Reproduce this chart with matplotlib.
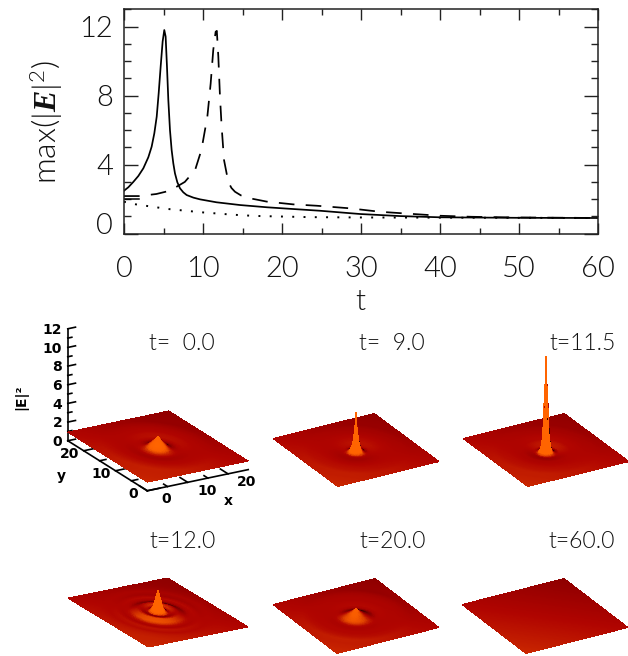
import matplotlib
matplotlib.use("Agg")
import matplotlib.pyplot as plt
import numpy as np
from matplotlib.colors import LinearSegmentedColormap
from matplotlib.ticker import MultipleLocator

W_PX, H_PX = 628, 656

plt.rcParams["font.family"] = ["Lato", "DejaVu Sans"]
plt.rcParams["font.weight"] = 300
plt.rcParams["mathtext.fontset"] = "custom"
plt.rcParams["mathtext.rm"] = "Lato:weight=300"
plt.rcParams["mathtext.it"] = "Liberation Serif:italic:bold"
plt.rcParams["mathtext.default"] = "regular"

# curves of the upper panel
solid_t = [0, 0.55, 1.18, 1.81, 2.45, 3.08, 3.5, 3.84, 4.14, 4.39, 4.64, 4.89, 5.1, 5.27, 5.44, 5.61, 5.82,
           6.03, 6.24, 6.45, 6.75, 7.09, 7.5, 7.93, 8.78, 9.62, 11.7, 14.7, 18.1, 21.4, 24.8, 29.9, 35, 40, 50, 60]
solid_v = [2.49, 2.69, 3.0, 3.34, 3.79, 4.43, 5.04, 5.82, 6.78, 8.14, 9.68, 11.13, 11.8, 11.42, 9.68, 7.75, 6.0,
           4.85, 4.08, 3.5, 2.98, 2.63, 2.4, 2.24, 2.09, 1.99, 1.82, 1.66, 1.53, 1.43, 1.33, 1.14, 1.02, 0.95, 0.92, 0.91]
dashed_t = [0, 1.9, 4.1, 5.8, 7.7, 9, 9.8, 10.55, 10.97, 11.3, 11.6, 11.75, 11.94, 12.15, 12.36,
            12.66, 13.2, 13.6, 14.05, 14.8, 15.95, 18.06, 21.4, 24.4, 28.6, 32.4, 36, 40, 44, 48, 60]
dashed_v = [2.18, 2.18, 2.3, 2.49, 3.0, 3.69, 4.85, 6.78, 8.7, 10.65, 11.7, 11.75, 10.26, 7.94, 6.2,
            4.27, 3.0, 2.65, 2.43, 2.22, 2.05, 1.86, 1.7, 1.62, 1.47, 1.27, 1.16, 1.04, 0.98, 0.95, 0.91]
dotted_t = [0, 1.5, 5.6, 9.8, 13.8, 16.5, 23.4, 30, 40, 50, 60]
dotted_v = [1.85, 1.70, 1.43, 1.24, 1.10, 1.03, 0.96, 0.94, 0.93, 0.92, 0.91]
stub_t = [0, 1.9]
stub_v = [2.0, 2.0]
x_ticks = [0, 10, 20, 30, 40, 50, 60]
y_ticks = [0, 4, 8, 12]

# radial profiles of |E|^2
radii = [0, 0.15, 0.35, 0.5, 0.7, 1, 1.4, 2, 2.5, 3, 3.7, 4.5, 5.5, 6.5, 7.5, 9, 10.5, 12, 14, 18, 36]
prof_00 = [2.02, 1.93, 1.8, 1.7, 1.6, 1.46, 1.26, 0.98, 0.82, 0.74, 0.7, 0.72, 0.78, 0.84, 0.88, 0.93, 0.95, 0.93, 0.92, 0.93, 0.93]
prof_09 = [5.0, 3.9, 2.8, 2.2, 1.6, 1.15, 0.85, 0.68, 0.66, 0.68, 0.72, 0.77, 0.82, 0.86, 0.89, 0.92, 0.94, 0.93, 0.93, 0.93, 0.93]
prof_11 = [11.0, 8.5, 6.8, 4.8, 2.4, 1.25, 0.8, 0.64, 0.62, 0.66, 0.72, 0.78, 0.82, 0.86, 0.89, 0.92, 0.94, 0.93, 0.93, 0.93, 0.93]
prof_12 = [3.3, 3.05, 2.7, 2.4, 2.0, 1.5, 1.2, 0.98, 1.0, 1.08, 1.14, 1.0, 0.82, 0.82, 0.88, 0.88, 0.93, 0.94, 0.93, 0.93, 0.93]
prof_20 = [1.72, 1.66, 1.58, 1.52, 1.45, 1.36, 1.24, 1.08, 0.96, 0.85, 0.76, 0.76, 0.8, 0.84, 0.87, 0.92, 0.95, 0.93, 0.93, 0.93, 0.93]
prof_60 = [0.93] * len(radii)

titles = ["t=  0.0", "t=  9.0", "t=11.5", "t=12.0", "t=20.0", "t=60.0"]
profiles = [prof_00, prof_09, prof_11, prof_12, prof_20, prof_60]

# plate centre on the page (px), elevation, x and y edge lengths on the page (px)
centres = [(158, 446.5), (356, 450), (546, 450), (158, 612.5), (356, 616), (545, 616)]
elevs = [21.3, 25.3, 25.3, 20.5, 26.2, 26.2]
x_edges = [116.5, 116.8, 116.8, 115.0, 117.8, 117.8]
y_edges = [159.0, 129.8, 129.8, 161.0, 128.0, 128.0]
title_x = [182, 392, 583, 183, 393, 582]
title_y = [344, 344, 344, 541, 541, 541]

surf_cmap = LinearSegmentedColormap.from_list(
    "surf", ["#3c0000", "#7a0000", "#960000", "#b00400", "#c42000", "#e04400", "#f85c00", "#ff6400"])


def draw_top(fig):
    ax = fig.add_axes([124 / W_PX, 1 - 233.7 / H_PX, 474 / W_PX, 224.4 / H_PX])
    ax.plot(solid_t, solid_v, color="black", lw=1.25)
    ax.plot(dashed_t, dashed_v, color="black", lw=1.25, linestyle=(0, (9, 6.5)))
    ax.plot(dotted_t, dotted_v, color="black", lw=1.4, linestyle=(0, (1, 4.8)))
    ax.plot(stub_t, stub_v, color="black", lw=1.1)
    ax.set_xlim(0, 60)
    ax.set_ylim(0, 13)
    ax.set_xticks(x_ticks)
    ax.set_yticks(y_ticks)
    ax.xaxis.set_minor_locator(MultipleLocator(5))
    ax.yaxis.set_minor_locator(MultipleLocator(1))
    ax.tick_params(axis="x", which="major", direction="in", top=True, length=8, width=1, labelsize=21, pad=16, color="#222222", labelcolor="#111111")
    ax.tick_params(axis="x", which="minor", direction="in", top=True, length=4, width=1, color="#222222")
    ax.tick_params(axis="y", which="major", direction="in", right=True, length=10, width=1, labelsize=21, pad=8, color="#222222", labelcolor="#111111")
    ax.tick_params(axis="y", which="minor", direction="in", right=True, length=5, width=1, color="#222222")
    ax.get_yticklabels()[0].set_verticalalignment("baseline")
    for spine in ax.spines.values():
        spine.set_linewidth(1.1)
        spine.set_color("#222222")
    fig.text(360 / W_PX, 1 - 302 / H_PX, "t", fontsize=21, ha="center", va="center", color="#111111")
    fig.text(47 / W_PX, 1 - 122 / H_PX, r"max$(|\mathit{E}|^2)$", fontsize=23, rotation=90,
             ha="center", va="center", color="#111111")


def draw_surface(fig, i):
    sx, sy = x_edges[i], y_edges[i]
    elev = elevs[i]
    sz = 12 * 9.33 / np.cos(np.radians(elev))
    norm = np.sqrt(sx ** 2 + sy ** 2 + sz ** 2)
    side = norm / 1.03
    cx, cy = centres[i]
    ty = cy - (6 - 0.93) * 9.33
    left = cx - 0.5135 * side
    bottom = (H_PX - ty) - 0.5135 * side
    ax = fig.add_axes([left / W_PX, bottom / H_PX, side / W_PX, side / H_PX],
                      projection="3d", proj_type="ortho")
    ax.patch.set_visible(False)
    ax.view_init(elev=elev, azim=240)
    ax.set_box_aspect((sx, sy, sz))
    ax.set_xlim(0, 25)
    ax.set_ylim(0, 25)
    ax.set_zlim(0, 12)
    ax.set_axis_off()

    g = np.linspace(0, 25, 201)
    X, Y = np.meshgrid(g, g)
    r = np.hypot(X - 12.5, Y - 12.5)
    Z = np.interp(r, radii, profiles[i])

    # shade from the radial slope, blended between knots so the rings stay soft
    rad = np.array(radii)
    mids = (rad[1:] + rad[:-1]) / 2
    steps = np.diff(profiles[i]) / np.diff(rad)
    dz_dr = np.interp(r, mids, steps)
    with np.errstate(invalid="ignore", divide="ignore"):
        slope = np.nan_to_num(dz_dr * ((X - 12.5) + (Y - 12.5)) / r)
    level = 0.42 - 0.36 * ((X + Y) / 50 - 0.5) + 0.62 * np.tanh(slope * 2.2)
    ax.plot_surface(X, Y, Z, facecolors=surf_cmap(np.clip(level, 0, 1)), rstride=1, cstride=1,
                    shade=False, linewidth=0, antialiased=False)
    fig.text(title_x[i] / W_PX, 1 - title_y[i] / H_PX, titles[i], fontsize=16.5, ha="center",
             va="center", color="#111111")
    return ax


def draw_box_axes(fig, ax):
    lw = 1.2
    font = dict(fontsize=10, family="DejaVu Sans", fontweight="bold", color="black")
    ax.plot([0, 0], [25, 25], [0, 12], color="black", lw=lw)
    ax.plot([0, 0], [0, 25], [0, 0], color="black", lw=lw)
    ax.plot([0, 25], [0, 0], [0, 0], color="black", lw=lw)
    for z in range(0, 13):
        ln = 1.9 if z % 2 == 0 else 1.0
        ax.plot([0, ln], [25, 25], [z, z], color="black", lw=lw)
        if z % 2 == 0:
            ax.text(-1.4, 25, z, str(z), ha="right", va="center", **font)
    for v in range(0, 25, 5):
        ln = 2.4 if v % 10 == 0 else 1.2
        ax.plot([v, v], [0, ln], [0, 0], color="black", lw=lw)
        ax.plot([0, ln * 1.3], [v, v], [0, 0], color="black", lw=lw)
    for v in (0, 10, 20):
        ax.text(v + 1, -4.7, 0, str(v), rotation=22, ha="center", va="center", **font)
        ax.text(-3.6, v, 0, str(v), rotation=-30, ha="center", va="center", **font)
    ax.text(12.2, -10.1, 0, "x", rotation=22, ha="center", va="center", **font)
    ax.text(-11.7, 12.1, 0, "y", rotation=-60, ha="center", va="center", **font)
    fig.text(21 / W_PX, 1 - 397 / H_PX, "|E|²", rotation=90, ha="center", va="center", **font)


def main():
    fig = plt.figure(figsize=(W_PX / 100, H_PX / 100), dpi=100)
    draw_top(fig)
    for i in range(6):
        ax = draw_surface(fig, i)
        if i == 0:
            draw_box_axes(fig, ax)
    fig.savefig("out.png", dpi=100)


if __name__ == "__main__":
    main()
